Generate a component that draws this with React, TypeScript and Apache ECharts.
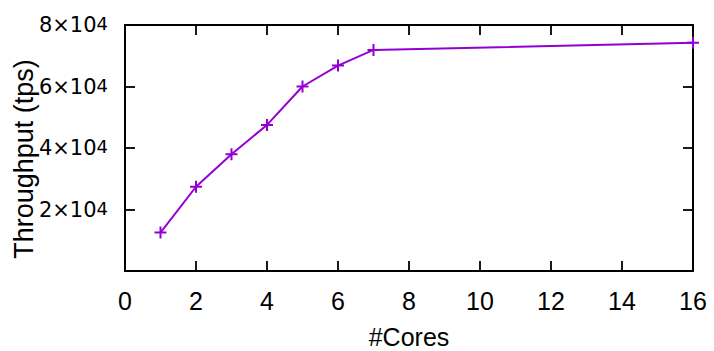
import React, { useEffect, useRef } from "react";
import * as echarts from "echarts";

const cores = [1, 2, 3, 4, 5, 6, 7, 16];
const throughput = [12500, 27400, 38000, 47500, 60000, 66800, 71900, 74200];
const xTicks = [0, 2, 4, 6, 8, 10, 12, 14, 16];
const yTickMantissa = ["", "2", "4", "6", "8"];
const yTickExponent = "4";

const COLOR = "#9400D3";
const FONT = "Liberation Sans, Arial, Helvetica, sans-serif";
const YFONT = "DejaVu Sans";

export default function App() {
  const ref = useRef<HTMLDivElement>(null);
  useEffect(() => {
    if (!ref.current) return;
    document.body.style.margin = "0";
    const chart = echarts.init(ref.current, null, { renderer: "svg", width: 714, height: 351 });
    const axisLine = { show: true, onZero: false, lineStyle: { color: "#000", width: 2 } };
    const tickStyle = { show: true, inside: true, length: 10, lineStyle: { color: "#000", width: 1.8 } };
    chart.setOption({
      animation: false,
      backgroundColor: "#fff",
      grid: { left: 125, right: 21, top: 25, bottom: 80, containLabel: false, outerBoundsMode: "none" },
      xAxis: [
        {
          type: "value",
          min: xTicks[0],
          max: xTicks[xTicks.length - 1],
          interval: 2,
          position: "bottom",
          name: "#Cores",
          nameLocation: "middle",
          nameGap: 56,
          nameMoveOverlap: false,
          nameTextStyle: { fontFamily: FONT, fontSize: 25, lineHeight: 20, color: "#000" },
          axisLine,
          axisTick: tickStyle,
          splitLine: { show: false },
          axisLabel: { fontFamily: FONT, fontSize: 25, color: "#000", margin: 17 },
        },
        {
          type: "value",
          min: xTicks[0],
          max: xTicks[xTicks.length - 1],
          interval: 2,
          position: "top",
          axisLine,
          axisTick: tickStyle,
          splitLine: { show: false },
          axisLabel: { show: false },
        },
      ],
      yAxis: [
        {
          type: "value",
          min: 0,
          max: 80000,
          interval: 20000,
          position: "left",
          name: "Throughput (tps)",
          nameLocation: "middle",
          nameGap: 88,
          nameMoveOverlap: false,
          nameTextStyle: { fontFamily: FONT, fontSize: 27, color: "#000", padding: [0, 22, 0, 0] },
          axisLine,
          axisTick: tickStyle,
          splitLine: { show: false },
          axisLabel: {
            margin: 17,
            fontFamily: YFONT,
            fontSize: 21,
            color: "#000",
            formatter: (v: number) => {
              const m = yTickMantissa[Math.round(v / 20000)];
              return m ? `{a|${m}×10}{b|${yTickExponent}}` : "";
            },
            rich: {
              a: { fontFamily: YFONT, fontSize: 21, color: "#000", lineHeight: 21, padding: [10, 0, 0, 0], verticalAlign: "bottom" },
              b: { fontFamily: YFONT, fontSize: 18, color: "#000", lineHeight: 18, verticalAlign: "top" },
            },
          },
        },
        {
          type: "value",
          min: 0,
          max: 80000,
          interval: 20000,
          position: "right",
          axisLine,
          axisTick: tickStyle,
          splitLine: { show: false },
          axisLabel: { show: false },
        },
      ],
      series: [
        {
          type: "line",
          data: cores.map((c, i) => [c, throughput[i]]),
          lineStyle: { color: COLOR, width: 2 },
          symbol: "path://M0,5L10,5M5,0L5,10",
          symbolSize: 12,
          showSymbol: true,
          itemStyle: { color: "rgba(0,0,0,0)", borderColor: COLOR, borderWidth: 2 },
          clip: false,
          z: 5,
        },
      ],
    });
    return () => chart.dispose();
  }, []);
  return (
    <div
      ref={ref}
      style={{ position: "fixed", left: 0, top: 0, width: 714, height: 351 }}
    />
  );
}
